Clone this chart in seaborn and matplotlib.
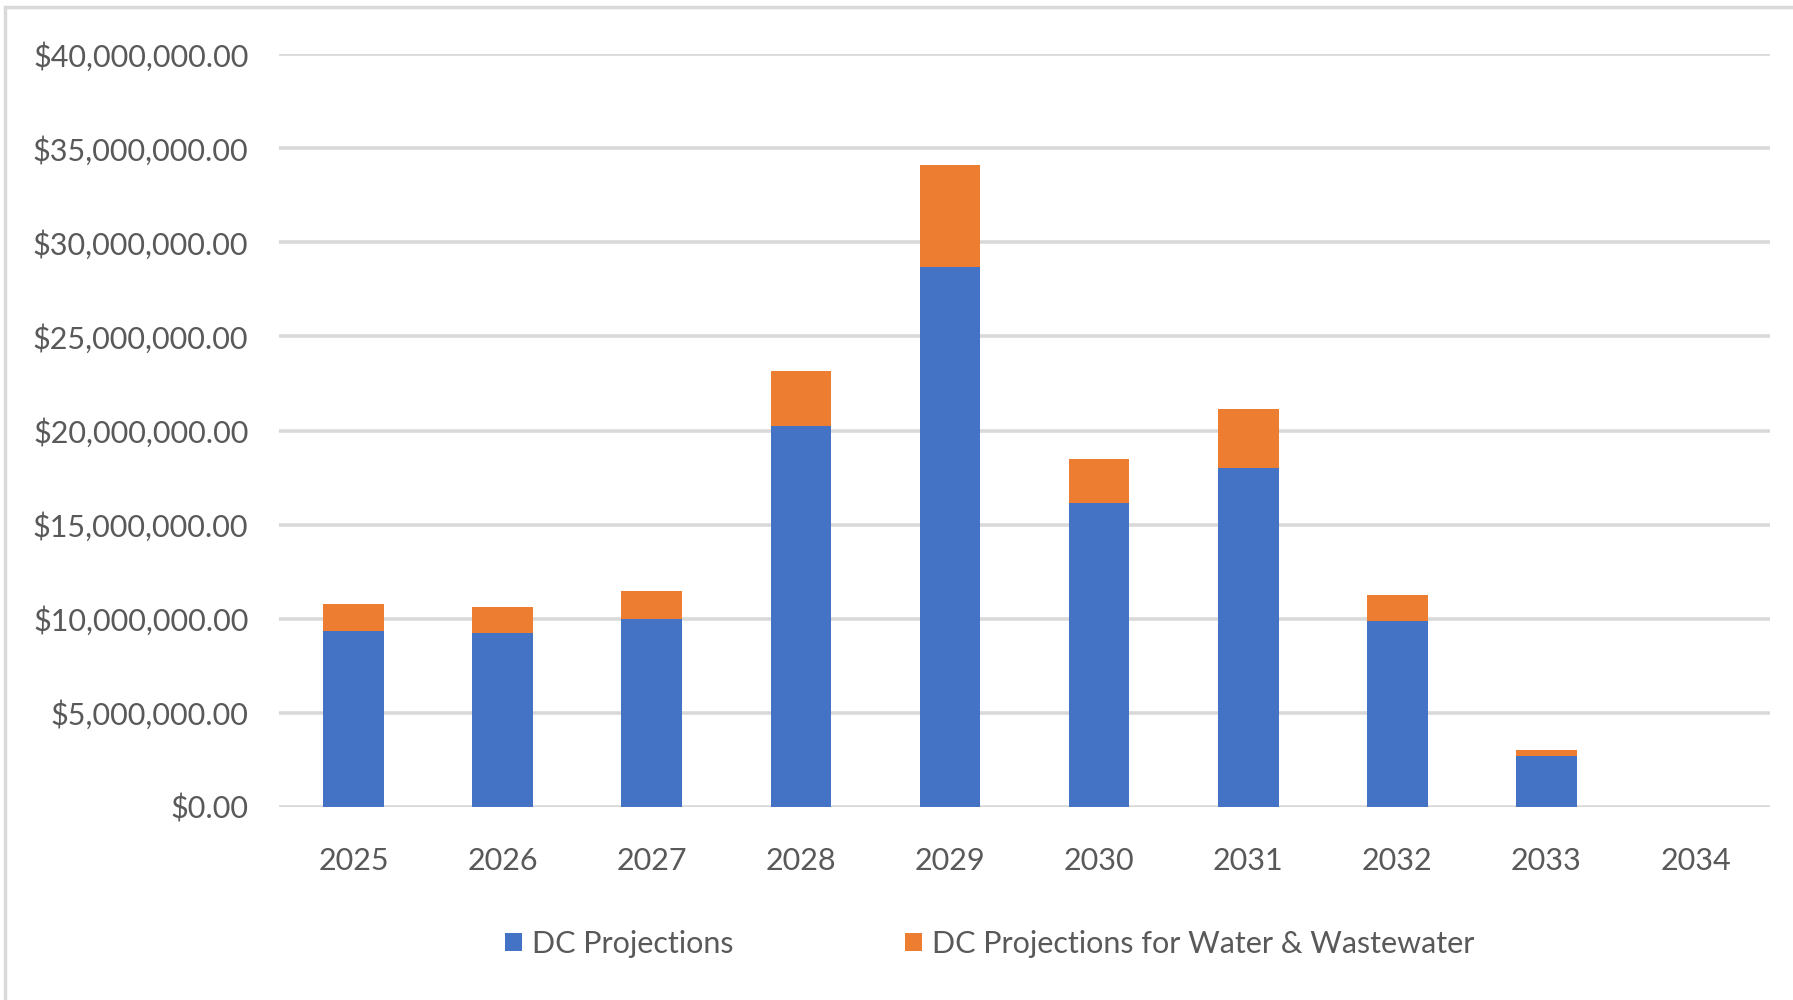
import matplotlib
matplotlib.use("Agg")
import matplotlib.pyplot as plt
from matplotlib.patches import Patch, Rectangle
from matplotlib.ticker import FuncFormatter, MultipleLocator
import numpy as np
import pandas as pd
import seaborn as sns

# Development charge projections by year (dollars)
years = ["2025", "2026", "2027", "2028", "2029", "2030", "2031", "2032", "2033", "2034"]
dc_projections = [9.34e6, 9.24e6, 9.98e6, 20.22e6, 28.68e6, 16.17e6, 18.00e6, 9.86e6, 2.69e6, 0.0]
dc_water_wastewater = [1.42e6, 1.39e6, 1.52e6, 2.92e6, 5.43e6, 2.29e6, 3.16e6, 1.42e6, 0.32e6, 0.0]

series_names = ["DC Projections", "DC Projections for Water & Wastewater"]
blue = "#4472C4"
orange = "#ED7D31"
text_color = "#595959"
grid_color = "#D9D9D9"

df = pd.DataFrame({
    "year": years,
    "dc": dc_projections,
    "water": dc_water_wastewater,
})
df["total"] = df["dc"] + df["water"]

sns.set_theme(style="white")
plt.rcParams["font.family"] = ["Lato", "DejaVu Sans"]

fig = plt.figure(figsize=(17.93, 10.0), dpi=100)
ax = fig.add_axes([0.1556, 0.193, 0.8316, 0.753])

# Stacked bars: total height in orange, the DC portion drawn over it in blue
sns.barplot(data=df, x="year", y="total", color=orange, saturation=1,
            width=0.407, ax=ax, zorder=3, linewidth=0)
sns.barplot(data=df, x="year", y="dc", color=blue, saturation=1,
            width=0.407, ax=ax, zorder=4, linewidth=0)

ax.set_ylim(0, 40e6)
ax.set_xlim(-0.5, len(years) - 0.5)
ax.yaxis.set_major_locator(MultipleLocator(5e6))
ax.yaxis.set_major_formatter(FuncFormatter(lambda v, p: f"${v:,.2f}"))
ax.grid(axis="y", color=grid_color, linewidth=2.6, zorder=0)
ax.set_axisbelow(True)
for s in ax.spines.values():
    s.set_visible(False)
ax.set_xlabel("")
ax.set_ylabel("")
ax.tick_params(axis="y", length=0, pad=22, labelsize=22, labelcolor=text_color)
ax.tick_params(axis="x", length=0, pad=29, labelsize=22, labelcolor=text_color)

handles = [Patch(facecolor=blue, edgecolor="none"), Patch(facecolor=orange, edgecolor="none")]
fig.legend(handles, series_names, loc="center", bbox_to_anchor=(0.552, 0.056),
           ncol=2, frameon=False, fontsize=22, labelcolor=text_color,
           handlelength=0.55, handleheight=0.55, handletextpad=0.35,
           columnspacing=5.6)

# Chart area border
fig.patches.append(Rectangle((0.003, -0.02), 1.02, 1.013, transform=fig.transFigure,
                             fill=False, edgecolor="#D9D9D9", linewidth=2.5))

fig.savefig("out.png", dpi=100, facecolor="white")
